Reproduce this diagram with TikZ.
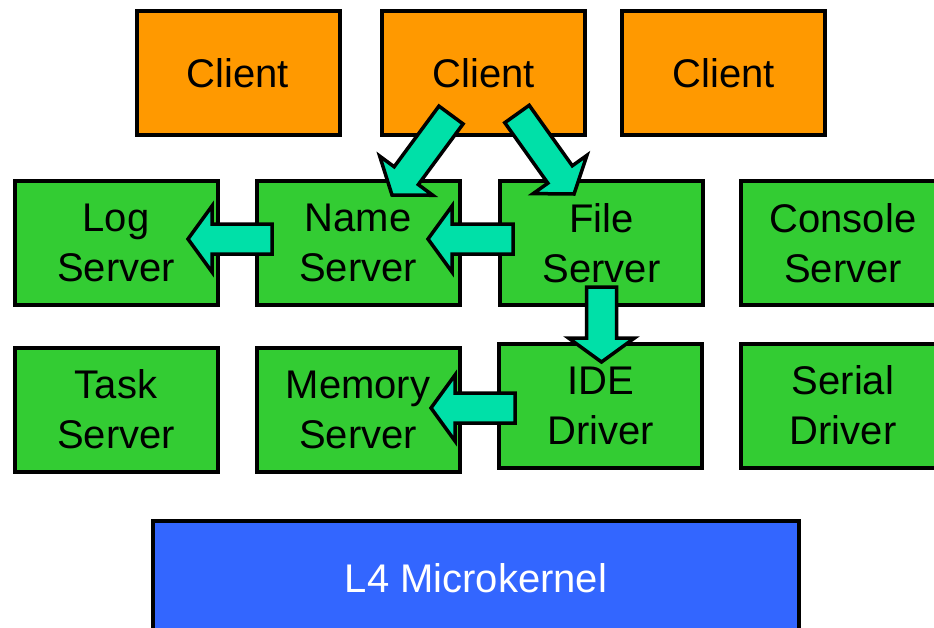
\documentclass[tikz,border=0pt]{standalone}
\usepackage{fontspec}
\setmainfont{Liberation Sans}
\usetikzlibrary{calc}
\definecolor{clientorange}{HTML}{FF9900}
\definecolor{servergreen}{HTML}{33CC33}
\definecolor{kernelblue}{HTML}{3366FF}
\definecolor{arrowteal}{HTML}{00E0A8}
\tikzset{
  box/.style={draw=black, line width=4pt, minimum width=203pt, minimum height=124pt,
    inner sep=0pt, align=center, font=\fontsize{40}{50}\selectfont},
  client/.style={box, fill=clientorange},
  server/.style={box, fill=servergreen},
  kernel/.style={box, fill=kernelblue, text=white, minimum width=646pt, minimum height=114pt},
  fatarr/.style={draw=black, line width=3.5pt, fill=arrowteal, line join=miter},
}
\newcommand\fatarrow[3]{%
  \coordinate (#3h) at ($(#2)!24pt!(#1)$);
  \draw[fatarr] ($(#1)!15pt!90:(#2)$) -- ($(#3h)!15pt!90:(#2)$) -- ($(#3h)!33pt!90:(#2)$) -- (#2)
    -- ($(#3h)!33pt!-90:(#2)$) -- ($(#3h)!15pt!-90:(#2)$) -- ($(#1)!15pt!-90:(#2)$) -- cycle;
}
\begin{document}
\begin{tikzpicture}[x=1pt, y=-1pt]
\useasboundingbox (0,0) rectangle (934,627);
% clients
\node[client] (c1) at (238,73) {Client};
\node[client] (c2) at (483.5,73) {Client};
\node[client] (c3) at (723.5,73) {Client};
% servers row 1
\node[server] (log) at (116,243) {Log\\Server};
\node[server] (name) at (358,243) {Name\\Server};
\node[server] (file) at (601.5,243) {File\\Server};
\node[server, minimum width=204pt] (console) at (843,243) {Console\\Server};
% servers row 2
\node[server] (task) at (116,409.5) {Task\\Server};
\node[server] (memory) at (358,409.5) {Memory\\Server};
\node[server] (ide) at (600.5,405.5) {IDE\\Driver};
\node[server, minimum width=204pt] (serial) at (843,405.5) {Serial\\Driver};
% kernel
\node[kernel] (l4) at (476,578) {L4 Microkernel};
% arrow end points
\coordinate (a1s) at (451,115);  \coordinate (a1e) at (392,195);
\coordinate (a2s) at (517,114);  \coordinate (a2e) at (574,194);
\coordinate (a3s) at (513,239);  \coordinate (a3e) at (428,239);
\coordinate (a4s) at (272,239);  \coordinate (a4e) at (188,239);
\coordinate (a5s) at (601.5,287);\coordinate (a5e) at (601.5,362);
\coordinate (a6s) at (515,408);  \coordinate (a6e) at (431,408);
\fatarrow{a1s}{a1e}{a1}
\fatarrow{a2s}{a2e}{a2}
\fatarrow{a3s}{a3e}{a3}
\fatarrow{a4s}{a4e}{a4}
\fatarrow{a5s}{a5e}{a5}
\fatarrow{a6s}{a6e}{a6}
\end{tikzpicture}
\end{document}
